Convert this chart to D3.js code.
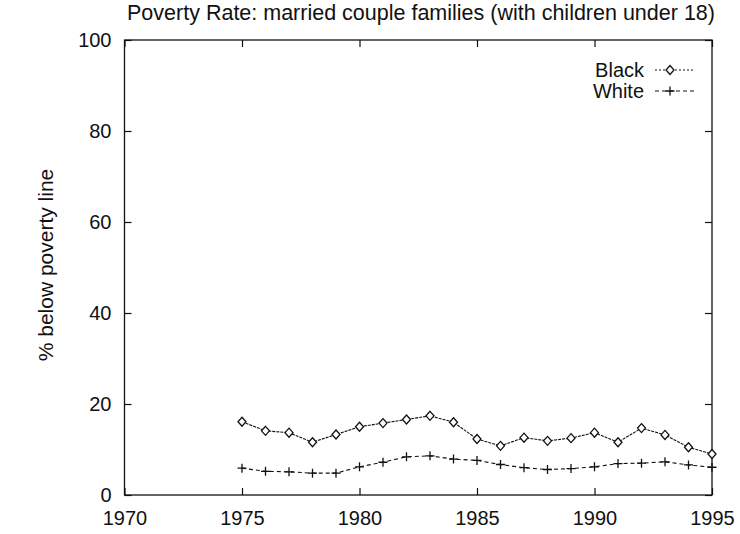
<!DOCTYPE html>
<html><head><meta charset="utf-8">
<script src="https://cdn.jsdelivr.net/npm/d3@7/dist/d3.min.js"></script>
<style>body{margin:0;background:#fff}svg{display:block}text{font-family:"Liberation Sans",Arial,sans-serif;fill:#111}</style>
</head><body>
<svg id="c" width="740" height="534"></svg>
<script>
const years = d3.range(1975, 1996);
const blackRate = [16.1,14.1,13.7,11.6,13.3,15.0,15.8,16.6,17.4,16.0,12.3,10.8,12.6,11.9,12.5,13.7,11.6,14.7,13.2,10.5,9.0];
const whiteRate = [5.9,5.2,5.1,4.8,4.8,6.2,7.2,8.4,8.6,7.9,7.6,6.7,6.0,5.6,5.8,6.2,6.9,7.0,7.3,6.6,6.1];
const xTicks = [1970,1975,1980,1985,1990,1995];
const yTicks = [0,20,40,60,80,100];

const svg = d3.select("#c");
const L=124.5, R=712, T=40, B=495;
const x = d3.scaleLinear().domain([1970,1995]).range([L,R]);
const y = d3.scaleLinear().domain([0,100]).range([B,T]);
const ink = "#111";
const FS = 20;

svg.append("text").attr("x",421).attr("y",20).attr("text-anchor","middle").attr("font-size",21.5).text("Poverty Rate: married couple families (with children under 18)");
svg.append("text").attr("transform","translate(53,265) rotate(-90)").attr("text-anchor","middle").attr("font-size",21).text("% below poverty line");

// axes
const gx = svg.append("g").attr("transform",`translate(0,${B})`).call(d3.axisBottom(x).tickValues(xTicks).tickFormat(d3.format("d")).tickSize(-7).tickPadding(16));
const gxt = svg.append("g").attr("transform",`translate(0,${T})`).call(d3.axisTop(x).tickValues(xTicks).tickFormat("").tickSize(-7));
const gy = svg.append("g").attr("transform",`translate(${L},0)`).call(d3.axisLeft(y).tickValues(yTicks).tickSize(-7).tickPadding(13));
const gyr = svg.append("g").attr("transform",`translate(${R},0)`).call(d3.axisRight(y).tickValues(yTicks).tickFormat("").tickSize(-7));
[gx,gxt,gy,gyr].forEach(g=>{g.select(".domain").remove();g.selectAll("line").attr("stroke",ink).attr("stroke-width",1.2);g.selectAll("text").attr("font-size",FS).attr("fill",ink).attr("font-family","Liberation Sans, Arial, sans-serif");});
gx.selectAll("text").attr("dy","0.71em");
svg.append("rect").attr("x",L).attr("y",T).attr("width",R-L).attr("height",B-T).attr("fill","none").attr("stroke",ink).attr("stroke-width",1.3);

const line = d3.line().x(d=>x(d[0])).y(d=>y(d[1]));
const bData = years.map((yr,i)=>[yr,blackRate[i]]);
const wData = years.map((yr,i)=>[yr,whiteRate[i]]);

svg.append("path").datum(bData).attr("d",line).attr("fill","none").attr("stroke",ink).attr("stroke-width",1.1).attr("stroke-dasharray","3,1");
svg.append("path").datum(wData).attr("d",line).attr("fill","none").attr("stroke",ink).attr("stroke-width",1.1).attr("stroke-dasharray","4,3");

function diamond(g,cx,cy){g.append("path").attr("d",`M${cx},${cy-4.5}L${cx+4},${cy}L${cx},${cy+4.5}L${cx-4},${cy}Z`).attr("fill","#fff").attr("stroke",ink).attr("stroke-width",1.3);}
function plus(g,cx,cy){g.append("path").attr("d",`M${cx-4.5},${cy}H${cx+4.5}M${cx},${cy-4.5}V${cy+4.5}`).attr("stroke",ink).attr("stroke-width",1.3);}
const mg = svg.append("g");
bData.forEach(d=>diamond(mg,x(d[0]),y(d[1])));
wData.forEach(d=>plus(mg,x(d[0]),y(d[1])));

// legend
const lg = svg.append("g");
lg.append("text").attr("x",644).attr("y",77).attr("text-anchor","end").attr("font-size",FS).text("Black");
lg.append("text").attr("x",644).attr("y",98).attr("text-anchor","end").attr("font-size",FS).text("White");
lg.append("line").attr("x1",655).attr("x2",694).attr("y1",70).attr("y2",70).attr("stroke",ink).attr("stroke-dasharray","2,2");
lg.append("line").attr("x1",655).attr("x2",694).attr("y1",91).attr("y2",91).attr("stroke",ink).attr("stroke-dasharray","4,3");
diamond(lg,670,70); plus(lg,670,91);
</script>
</body></html>
